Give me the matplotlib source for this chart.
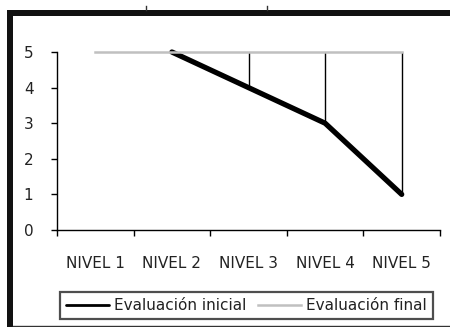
import matplotlib
matplotlib.use("Agg")
import matplotlib.pyplot as plt
import numpy as np
from matplotlib.patches import Rectangle
from matplotlib.lines import Line2D

categories = ["NIVEL 1", "NIVEL 2", "NIVEL 3", "NIVEL 4", "NIVEL 5"]
inicial = [np.nan, 5, 4, 3, 1]
final = [5, 5, 5, 5, 5]
yticks = [0, 1, 2, 3, 4, 5]

W, H = 450, 327
fig = plt.figure(figsize=(W / 100, H / 100), dpi=100)
fig.patch.set_facecolor("white")

def fx(px):
    return px / W

def fy(py):
    return 1 - py / H

ax = fig.add_axes([fx(57), fy(230), fx(440) - fx(57), fy(52) - fy(230)])
x = list(range(len(categories)))

# drop (high-low) lines
ax.vlines(x, inicial, final, colors="black", linewidth=1.0, zorder=2)
ax.plot(x, inicial, color="black", linewidth=3.8, solid_capstyle="round",
        solid_joinstyle="round", label="Evaluación inicial", zorder=3)
ax.plot(x, final, color="#c0c0c0", linewidth=1.8, label="Evaluación final", zorder=4)

ax.set_xlim(-0.5, len(categories) - 0.5)
ax.set_ylim(0, 5)
ax.set_yticks(yticks)
ax.set_xticks(x)
ax.set_xticklabels(categories)
ax.set_xticks([i - 0.5 for i in range(len(categories) + 1)], minor=True)
ax.tick_params(axis="x", which="major", length=0, pad=19, labelsize=11, colors="#222222")
ax.tick_params(axis="x", which="minor", length=4, width=1, direction="out", color="black")
ax.tick_params(axis="y", length=4, width=1, direction="out", pad=13, labelsize=11,
               colors="#222222")
ax.tick_params(axis="y", color="black")
for s in ["top", "right"]:
    ax.spines[s].set_visible(False)
for s in ["left", "bottom"]:
    ax.spines[s].set_linewidth(1.0)
    ax.spines[s].set_color("black")
for l in ax.lines:
    l.set_clip_on(False)

leg = fig.legend(loc="center", bbox_to_anchor=(fx(246.5), fy(305.5)), ncol=2,
                 fontsize=11, frameon=True, fancybox=False, handlelength=2.8,
                 handletextpad=0.3, columnspacing=0.8, borderpad=0.4,
                 borderaxespad=0)
leg.get_frame().set_edgecolor("#222222")
leg.get_frame().set_linewidth(1.6)
for t in leg.get_texts():
    t.set_color("#222222")
leg.legend_handles[0].set_linewidth(2.0)
leg.legend_handles[1].set_linewidth(1.8)

# outer frame
fig.patches.append(Rectangle((fx(7), fy(327)), fx(13) - fx(7), fy(10) - fy(327),
                             transform=fig.transFigure, facecolor="#111111",
                             edgecolor="none"))
fig.patches.append(Rectangle((fx(7), fy(16)), 1 - fx(7), fy(10) - fy(16),
                             transform=fig.transFigure, facecolor="#111111",
                             edgecolor="none"))
fig.lines.append(Line2D([fx(13), 1], [fy(325.5), fy(325.5)], transform=fig.transFigure,
                        color="#333333", linewidth=1.0))
for px in (146, 267):
    fig.lines.append(Line2D([fx(px), fx(px)], [fy(6), fy(10)], transform=fig.transFigure,
                            color="#333333", linewidth=1.0))

fig.savefig("out.png", dpi=100, facecolor="white")
